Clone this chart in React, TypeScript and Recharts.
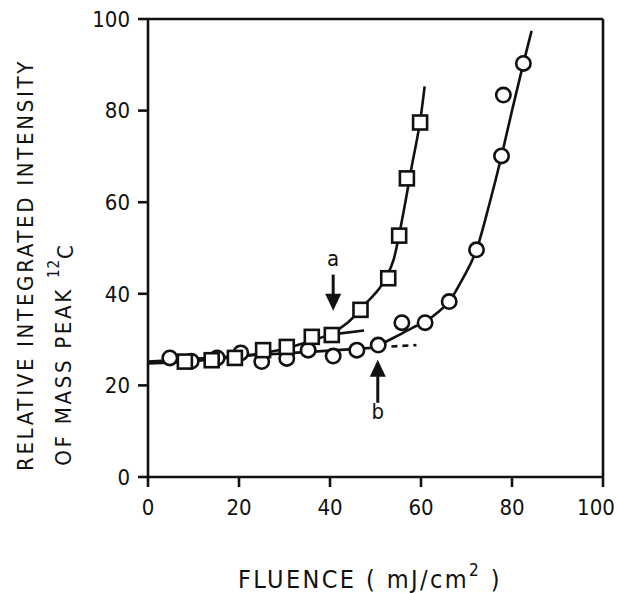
import React from 'react'
import {
  ComposedChart,
  Line,
  Scatter,
  XAxis,
  YAxis,
  ReferenceLine,
  ReferenceDot,
  Label,
} from 'recharts'

const squareX = [8.1, 14.0, 19.1, 25.3, 30.5, 36.0, 40.4, 46.7, 52.8, 55.2, 56.9, 59.8]
const squareY = [25.2, 25.5, 26.0, 27.7, 28.4, 30.6, 31.0, 36.5, 43.4, 52.7, 65.2, 77.4]

const circleX = [4.8, 9.5, 15.2, 20.4, 25.0, 30.5, 35.2, 40.7, 45.9, 50.6, 55.8, 60.9, 66.2, 72.2, 77.7, 78.1, 82.5]
const circleY = [26.0, 25.3, 26.0, 27.1, 25.2, 25.9, 27.7, 26.4, 27.7, 28.8, 33.7, 33.7, 38.3, 49.6, 70.1, 83.4, 90.3]

// hand-drawn fit curves
const fitAX = [0, 10, 20, 30, 36, 40, 44, 48, 52, 54, 56, 58, 60, 60.8]
const fitAY = [24.8, 25.3, 26.3, 28.0, 29.8, 31.2, 33.8, 38.0, 43.0, 47.5, 57.0, 68.0, 79.0, 85.3]

const tangentAX = [41, 47.5]
const tangentAY = [31.2, 32.0]

const baseBX = [0, 10, 20, 30, 40, 46, 52]
const baseBY = [25.2, 25.8, 26.4, 27.0, 27.6, 28.0, 28.4]

const dashBX = [53.5, 59]
const dashBY = [28.5, 28.8]

const riseBX = [50, 54, 58, 61, 64, 66.2, 69, 72.2, 75, 77.7, 80, 82.5, 84.3]
const riseBY = [28.4, 30.4, 32.5, 34.0, 36.2, 38.3, 43.0, 49.6, 59.5, 70.1, 80.0, 90.3, 97.4]

const ticks = [0, 20, 40, 60, 80, 100]

const zip = (xs: number[], ys: number[]) => xs.map((x, i) => ({ x, y: ys[i] }))

const squares = zip(squareX, squareY)
const circles = zip(circleX, circleY)

const FONT = '"DejaVu Sans Condensed", "Liberation Sans Narrow", sans-serif'

const SquareMark = (props: any) => {
  const { cx, cy } = props
  return <rect x={cx - 7} y={cy - 7} width={14} height={14} fill="#fff" stroke="#111" strokeWidth={2.6} />
}

const CircleMark = (props: any) => {
  const { cx, cy } = props
  return <circle cx={cx} cy={cy} r={7.2} fill="#fff" stroke="#111" strokeWidth={2.6} />
}

const headDown = (props: any) => {
  const { cx, cy } = props
  return <path d={`M${cx},${cy} L${cx - 8},${cy - 17} L${cx + 8},${cy - 17} Z`} fill="#111" />
}

const headUp = (props: any) => {
  const { cx, cy } = props
  return <path d={`M${cx},${cy} L${cx - 8},${cy + 17} L${cx + 8},${cy + 17} Z`} fill="#111" />
}

const letter = (t: string) => (props: any) => {
  const { cx, cy } = props
  return (
    <text x={cx} y={cy} textAnchor="middle" dominantBaseline="central" fontFamily={FONT} fontSize={22} fill="#111">
      {t}
    </text>
  )
}

const XTick = (props: any) => {
  const { x, y, payload } = props
  // the last label sits a little left of its tick in the original
  const shift = payload.value === 100 ? -7 : 0
  return (
    <text x={x + shift} y={y} dy={18} textAnchor="middle" fontFamily={FONT} fontSize={22} fill="#111">
      {payload.value}
    </text>
  )
}

const YTitle = () => (
  <g fontFamily={FONT} fill="#111" fontSize={22}>
    <text x={25} y={265} transform="rotate(-90 25 265)" textAnchor="middle" dominantBaseline="central" letterSpacing={2.7}>
      RELATIVE INTEGRATED INTENSITY
    </text>
    <text x={63} y={354} transform="rotate(-90 63 354)" textAnchor="middle" dominantBaseline="central" letterSpacing={2.7}>
      OF MASS PEAK <tspan fontSize={15} dy={-9} letterSpacing={1}>12</tspan>
      <tspan dy={11}>C</tspan>
    </text>
  </g>
)

const XTitle = () => (
  <text x={370} y={588} textAnchor="middle" fontFamily={FONT} fontSize={25} fill="#111" letterSpacing={2.4}>
    FLUENCE ( mJ/cm<tspan fontSize={17} dy={-12}>2</tspan>
    <tspan dy={12}> )</tspan>
  </text>
)

export default function App() {
  const lineProps = {
    dataKey: 'y',
    stroke: '#111',
    strokeWidth: 2.6,
    dot: false,
    activeDot: false,
    isAnimationActive: false,
    type: 'monotone' as const,
  }
  return (
    <div style={{ position: 'absolute', left: 0, top: 0, background: '#fff' }}>
      <ComposedChart width={618} height={593} margin={{ top: 19, right: 15, left: 78, bottom: 76 }}>
        <XAxis
          type="number"
          dataKey="x"
          domain={[0, 100]}
          ticks={ticks}
          allowDataOverflow
          axisLine={{ stroke: '#111', strokeWidth: 2.6 }}
          tickLine={{ stroke: '#111', strokeWidth: 2.6 }}
          tickSize={10}
          tickMargin={10}
          height={40}
          tick={<XTick />}
        />
        <YAxis
          type="number"
          dataKey="y"
          domain={[0, 100]}
          ticks={ticks}
          allowDataOverflow
          axisLine={{ stroke: '#111', strokeWidth: 2.6 }}
          tickLine={{ stroke: '#111', strokeWidth: 2.6 }}
          tickSize={10}
          tickMargin={8}
          width={70}
          tick={{ fill: '#111', fontSize: 22, fontFamily: FONT }}
        >
          <Label content={<YTitle />} />
        </YAxis>
        <ReferenceLine y={100} stroke="#111" strokeWidth={2.6} />
        <ReferenceLine x={100} stroke="#111" strokeWidth={2.6} />

        <Line data={zip(fitAX, fitAY)} {...lineProps} />
        <Line data={zip(tangentAX, tangentAY)} {...lineProps} type="linear" />
        <Line data={zip(baseBX, baseBY)} {...lineProps} />
        <Line data={zip(dashBX, dashBY)} {...lineProps} type="linear" strokeDasharray="6 5" />
        <Line data={zip(riseBX, riseBY)} {...lineProps} />

        <Scatter data={circles} shape={CircleMark} isAnimationActive={false} />
        <Scatter data={squares} shape={SquareMark} isAnimationActive={false} />

        <ReferenceLine segment={[{ x: 40.7, y: 44.2 }, { x: 40.7, y: 39 }]} stroke="#111" strokeWidth={3} />
        <ReferenceDot x={40.7} y={36.3} shape={headDown} />
        <ReferenceDot x={40.7} y={47.6} shape={letter('a')} />

        <ReferenceLine segment={[{ x: 50.5, y: 16.2 }, { x: 50.5, y: 22 }]} stroke="#111" strokeWidth={3} />
        <ReferenceDot x={50.5} y={25.6} shape={headUp} />
        <ReferenceDot x={50.5} y={14.2} shape={letter('b')} />

        <XTitle />
      </ComposedChart>
    </div>
  )
}
